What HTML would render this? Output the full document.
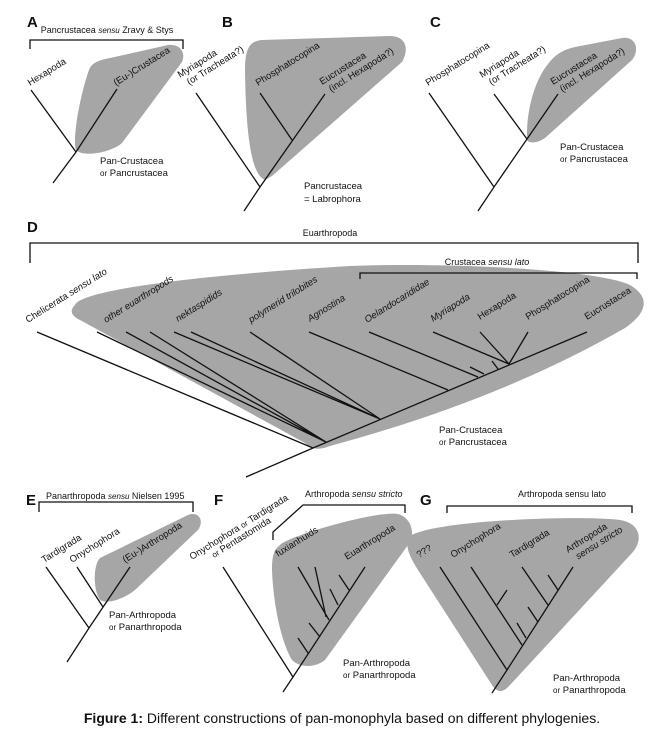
<!DOCTYPE html>
<html><head><meta charset="utf-8"><style>
html,body{margin:0;padding:0;background:#fff;}
svg{display:block;font-family:"Liberation Sans",sans-serif;}
.l{stroke:#111;stroke-width:1.3;fill:none;}
.b{fill:#a6a6a6;}
.t{font-size:9.5px;fill:#111;}
.s{font-size:9px;fill:#111;}
.h{font-size:15px;font-weight:bold;fill:#111;}
</style></head><body>
<svg width="672" height="738" viewBox="0 0 672 738">
<!-- A -->
<text class="h" x="27" y="27">A</text>
<text class="s" x="107" y="33" text-anchor="middle">Pancrustacea <tspan font-style="italic" font-size="8">sensu</tspan> Zravy &amp; Stys</text>
<path class="l" d="M30,49 V40 H183 V49"/>
<path class="b" d="M76,150 C72,140 80,95 89,70 C92,62 100,60 110,58 L168,45 C180,44 186,52 182,62 L122,143 C112,152 84,158 76,150 Z"/>
<path class="l" d="M31,90 L76,152 M53,183 L76,152 L117,89"/>
<text class="t" transform="translate(30,86) rotate(-32)">Hexapoda</text>
<text class="t" transform="translate(116,86) rotate(-32)">(Eu-)Crustacea</text>
<text class="t" x="100" y="164">Pan-Crustacea</text>
<text class="t" x="100" y="176"><tspan font-size="8">or</tspan> Pancrustacea</text>
<!-- B -->
<text class="h" x="222" y="27">B</text>
<path class="b" d="M265,180 C252,175 246,140 245,70 C245,48 250,41 262,40 L390,36 C405,36 410,48 402,62 L272,176 Z"/>
<path class="l" d="M196,93 L260,187 L244,211 M260,93 L292,140 M325,94 L260,187"/>
<text class="t" transform="translate(180,78) rotate(-32)">Myriapoda<tspan x="4" dy="11">(or Tracheata?)</tspan></text>
<text class="t" transform="translate(258,86) rotate(-32)">Phosphatocopina</text>
<text class="t" transform="translate(322,85) rotate(-32)">Eucrustacea<tspan x="4" dy="11">(incl. Hexapoda?)</tspan></text>
<text class="t" x="304" y="189">Pancrustacea</text>
<text class="t" x="304" y="202">= Labrophora</text>
<!-- C -->
<text class="h" x="430" y="27">C</text>
<path class="b" d="M527,140 C526,110 535,80 548,64 C555,55 562,50 575,47 L622,38 C636,36 640,50 632,60 L545,138 C538,143 529,144 527,140 Z"/>
<path class="l" d="M429,93 L494,187 L478,211 M494,94 L527,139 M558,94 L494,187"/>
<text class="t" transform="translate(428,86) rotate(-32)">Phosphatocopina</text>
<text class="t" transform="translate(482,78) rotate(-32)">Myriapoda<tspan x="4" dy="11">(or Tracheata?)</tspan></text>
<text class="t" transform="translate(553,85) rotate(-32)">Eucrustacea<tspan x="4" dy="11">(incl. Hexapoda?)</tspan></text>
<text class="t" x="560" y="150">Pan-Crustacea</text>
<text class="t" x="560" y="162"><tspan font-size="8">or</tspan> Pancrustacea</text>
<!-- D -->
<text class="h" x="27" y="232">D</text>
<text class="s" x="330" y="236" text-anchor="middle">Euarthropoda</text>
<path class="l" d="M30,263 V243 H638 V263"/>
<path class="b" d="M75,305 C80,290 200,275 350,266 C450,262 600,270 630,285 C650,297 648,312 625,328 Q500,400 330,446 C320,450 312,450 305,443 L80,320 C70,315 70,310 75,305 Z"/>
<text class="s" x="487" y="265" text-anchor="middle">Crustacea <tspan font-style="italic">sensu lato</tspan></text>
<path class="l" d="M360,279 V273 H637 V279"/>
<path class="l" d="M37,332 L313,448 M246,477 L313,448 L587,332 M97,332 L326,442 M126,332 L326,442 M150,332 L326,442 M174,332 L380,419 M191,332 L380,419 M250,332 L380,419 M309,332 L448,390 M369,332 L478,377 M470,367 L484,374 M492,361 L498,369 M433,332 L509,364 M480,332 L509,364 M528,332 L509,364"/>
<text class="t" transform="translate(28,323) rotate(-32)">Chelicerata <tspan font-style="italic">sensu lato</tspan></text>
<text class="t" font-style="italic" transform="translate(106,323) rotate(-32)">other euarthropods</text>
<text class="t" font-style="italic" transform="translate(178,322) rotate(-32)">nektaspidids</text>
<text class="t" font-style="italic" transform="translate(251,323) rotate(-32)">polymerid trilobites</text>
<text class="t" font-style="italic" transform="translate(310,322) rotate(-32)">Agnostina</text>
<text class="t" font-style="italic" transform="translate(367,323) rotate(-32)">Oelandocarididae</text>
<text class="t" font-style="italic" transform="translate(433,322) rotate(-32)">Myriapoda</text>
<text class="t" transform="translate(480,320) rotate(-32)">Hexapoda</text>
<text class="t" transform="translate(528,320) rotate(-32)">Phosphatocopina</text>
<text class="t" transform="translate(587,320) rotate(-32)">Eucrustacea</text>
<text class="t" x="439" y="433">Pan-Crustacea</text>
<text class="t" x="439" y="445"><tspan font-size="8">or</tspan> Pancrustacea</text>
<!-- E -->
<text class="h" x="26" y="505">E</text>
<text class="s" x="46" y="499">Panarthropoda <tspan font-style="italic" font-size="8">sensu</tspan> Nielsen 1995</text>
<path class="l" d="M39,512 V502 H193 V512"/>
<path class="b" d="M100,600 C93,590 93,565 100,558 L188,515 C198,511 205,520 198,530 L135,590 C125,598 108,605 100,600 Z"/>
<path class="l" d="M46,567 L89,628 L67,662 M77,567 L103,607 M130,567 L89,628"/>
<text class="t" transform="translate(44,563) rotate(-32)">Tardigrada</text>
<text class="t" transform="translate(72,563) rotate(-32)">Onychophora</text>
<text class="t" transform="translate(125,563) rotate(-32)">(Eu-)Arthropoda</text>
<text class="t" x="109" y="618">Pan-Arthropoda</text>
<text class="t" x="109" y="630"><tspan font-size="8">or</tspan> Panarthropoda</text>
<!-- F -->
<text class="h" x="214" y="505">F</text>
<text class="s" x="305" y="497">Arthropoda <tspan font-style="italic">sensu stricto</tspan></text>
<path class="l" d="M273,540 V532 L303,505 H405 V513"/>
<path class="b" d="M280,545 C290,535 380,510 398,514 C412,518 416,535 408,545 L325,660 C315,668 300,668 292,660 C280,640 273,600 272,570 C272,555 274,550 280,545 Z"/>
<path class="l" d="M223,567 L293,677 L283,692 M293,677 L365,567 M298,638 L308,653 M309,623 L320,637 M298,567 L329,620 M315,567 L326,617 M330,589 L338,605 M339,575 L349,590"/>
<text class="t" transform="translate(192,560) rotate(-32)">Onychophora <tspan font-size="8">or</tspan> Tardigrada</text>
<text class="t" transform="translate(214,558) rotate(-32)"><tspan font-size="8">or</tspan> Pentastomida</text>
<text class="t" transform="translate(278,557) rotate(-32)">fuxianhuids</text>
<text class="t" transform="translate(347,560) rotate(-32)">Euarthropoda</text>
<text class="t" x="343" y="666">Pan-Arthropoda</text>
<text class="t" x="343" y="678"><tspan font-size="8">or</tspan> Panarthropoda</text>
<!-- G -->
<text class="h" x="420" y="505">G</text>
<text class="s" x="562" y="497" text-anchor="middle">Arthropoda sensu lato</text>
<path class="l" d="M447,513 V506 H632 V513"/>
<path class="b" d="M412,535 C440,520 580,515 620,520 C640,523 644,540 632,553 L510,685 C503,693 497,693 492,685 L418,570 C405,550 405,540 412,535 Z"/>
<path class="l" d="M440,567 L507,670 L492,693 M507,670 L573,567 M471,567 L522,645 M497,605 L507,590 M517,623 L526,638 M522,567 L548,605 M528,607 L538,622 M548,575 L558,590"/>
<text class="t" transform="translate(419,558) rotate(-32)">???</text>
<text class="t" transform="translate(453,558) rotate(-32)">Onychophora</text>
<text class="t" transform="translate(512,558) rotate(-32)">Tardigrada</text>
<text class="t" transform="translate(568,553) rotate(-32)">Arthropoda<tspan x="5" dy="11" font-style="italic">sensu stricto</tspan></text>
<text class="t" x="553" y="681">Pan-Arthropoda</text>
<text class="t" x="553" y="693"><tspan font-size="8">or</tspan> Panarthropoda</text>
<!-- caption -->
<text x="342" y="723" text-anchor="middle" style="font-size:14px;fill:#111"><tspan font-weight="bold">Figure 1:</tspan> Different constructions of pan-monophyla based on different phylogenies.</text>
</svg>
</body></html>
